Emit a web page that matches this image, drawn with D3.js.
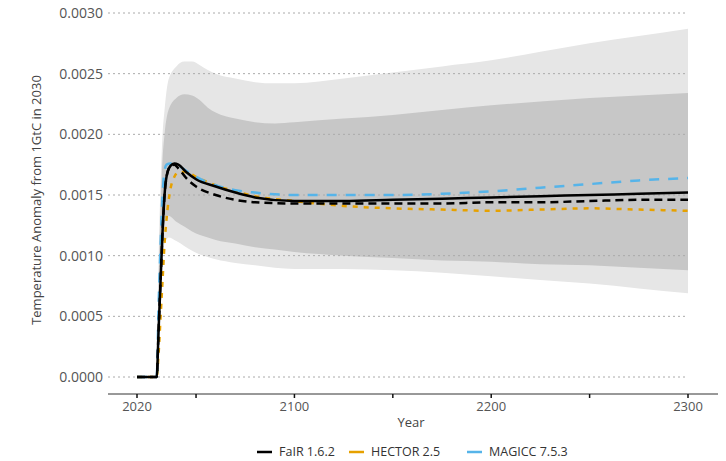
<!DOCTYPE html>
<html><head><meta charset="utf-8">
<script src="https://cdn.jsdelivr.net/npm/d3@7"></script>
<style>body{margin:0;background:#fff}svg{display:block}</style>
</head><body>
<script>
const bandYears = [2020,2030,2031,2032,2033,2034,2036,2040,2044,2048,2052,2056,2060,2070,2080,2090,2100,2125,2150,2175,2200,2225,2250,2275,2300];
const outerUpper = [0,0,0.0010,0.0016,0.0020,0.0022,0.00245,0.00256,0.0026,0.0026,0.00257,0.00253,0.0025,0.00246,0.00243,0.00242,0.00242,0.00246,0.00251,0.00256,0.00261,0.00268,0.00275,0.00281,0.00287];
const darkUpper = [0,0,0.0008,0.0014,0.0018,0.0020,0.0022,0.0023,0.00233,0.00232,0.00228,0.00222,0.00218,0.00213,0.0021,0.00209,0.0021,0.00213,0.00216,0.0022,0.00224,0.00227,0.0023,0.00232,0.00234];
const darkLower = [0,0,0.0006,0.0010,0.0012,0.0013,0.00133,0.00128,0.00124,0.0012,0.00117,0.00115,0.00113,0.0011,0.00107,0.00105,0.00103,0.001,0.00098,0.00096,0.00095,0.00093,0.00092,0.0009,0.00088];
const outerLower = [0,0,0.0005,0.0008,0.001,0.0011,0.00115,0.00112,0.00108,0.00104,0.00101,0.00099,0.00097,0.00094,0.00092,0.0009,0.00089,0.00089,0.00088,0.00086,0.00083,0.0008,0.00077,0.00073,0.00069];

const lineYears = [2020,2030,2031,2032,2033,2034,2035,2037,2039,2041,2045,2050,2060,2070,2080,2100,2125,2150,2175,2200,2225,2250,2275,2300];
const fair = [0,0,0.0004,0.0008,0.0012,0.0015,0.00165,0.00174,0.00176,0.00175,0.00169,0.00163,0.00157,0.00152,0.00148,0.00145,0.00145,0.00146,0.00147,0.00148,0.00149,0.0015,0.00151,0.00152];
const fairDashed = [0,0,0.0004,0.0008,0.0012,0.0015,0.00165,0.00174,0.00175,0.00172,0.00164,0.00157,0.0015,0.00146,0.00144,0.00143,0.00143,0.00143,0.00143,0.00144,0.00144,0.00145,0.00146,0.00146];
const hector = [0,0,0.0002,0.0005,0.0008,0.0011,0.0013,0.00155,0.00165,0.00169,0.00169,0.00165,0.00158,0.00153,0.00149,0.00145,0.00141,0.00139,0.00138,0.00137,0.00138,0.00139,0.00138,0.00137];
const magicc = [0,0,0.0006,0.0011,0.0015,0.0017,0.00175,0.00176,0.00175,0.00174,0.0017,0.00165,0.00158,0.00154,0.00152,0.0015,0.0015,0.0015,0.00151,0.00153,0.00156,0.00159,0.00162,0.00164];

const yTicks = [0,0.0005,0.001,0.0015,0.002,0.0025,0.003];
const xTickLabels = [2020,2100,2200,2300];
const xTicksAll = [2020,2050,2100,2150,2200,2250,2300];
const legendNames = ["FaIR 1.6.2","HECTOR 2.5","MAGICC 7.5.3"];
const legendColors = ["#000000","#E6A100","#56B4E9"];

const W=726,H=461;
const svg=d3.select("body").append("svg").attr("width",W).attr("height",H);
const font="'Open Sans', sans-serif";
const x=d3.scaleLinear().domain([2020,2300]).range([137,688]);
const y=d3.scaleLinear().domain([0,0.003]).range([377,13]);

const area=(lo,hi)=>d3.area().x((d,i)=>x(bandYears[i])).y0((d,i)=>y(lo[i])).y1((d,i)=>y(hi[i])).curve(d3.curveMonotoneX);
svg.append("path").datum(bandYears).attr("d",area(outerLower,outerUpper)).attr("fill","#e6e6e6");
svg.append("path").datum(bandYears).attr("d",area(darkLower,darkUpper)).attr("fill","#c7c7c7");

// grid
const g=svg.append("g");
g.selectAll("line").data(yTicks).join("line")
 .attr("x1",108).attr("x2",688).attr("y1",d=>y(d)).attr("y2",d=>y(d))
 .attr("stroke","#aaaaaa").attr("stroke-width",1).attr("stroke-dasharray","2,3");
svg.append("g").selectAll("text").data(yTicks).join("text")
 .attr("x",103).attr("y",d=>y(d)).attr("dy","0.35em").attr("text-anchor","end")
 .attr("font-family",font).attr("font-size",14).attr("fill","#555")
 .text(d=>d3.format(".4f")(d));

// x axis
const ax=svg.append("g").attr("transform","translate(0,394)");
ax.append("line").attr("x1",108).attr("x2",718).attr("stroke","#333").attr("stroke-width",1);
ax.selectAll("line.t").data(xTicksAll).join("line").attr("class","t")
 .attr("x1",d=>x(d)).attr("x2",d=>x(d)).attr("y1",0).attr("y2",4).attr("stroke","#111").attr("stroke-width",1.5);
ax.selectAll("text").data(xTickLabels).join("text")
 .attr("x",d=>x(d)).attr("y",17).attr("text-anchor","middle")
 .attr("font-family",font).attr("font-size",13).attr("fill","#555").text(d=>d);
svg.append("text").attr("x",411).attr("y",427).attr("text-anchor","middle")
 .attr("font-family",font).attr("font-size",13).attr("fill","#444").text("Year");
svg.append("text").attr("transform","translate(41,200) rotate(-90)").attr("text-anchor","middle")
 .attr("font-family",font).attr("font-size",13).attr("fill","#444").text("Temperature Anomaly from 1GtC in 2030");

const line=arr=>d3.line().x((d,i)=>x(lineYears[i])).y((d,i)=>y(arr[i])).curve(d3.curveMonotoneX)(lineYears);
svg.append("path").attr("d",line(hector)).attr("fill","none").attr("stroke",legendColors[1]).attr("stroke-width",2.5).attr("stroke-dasharray","5,6");
svg.append("path").attr("d",line(magicc)).attr("fill","none").attr("stroke",legendColors[2]).attr("stroke-width",2.5).attr("stroke-dasharray","10,9");
svg.append("path").attr("d",line(fairDashed)).attr("fill","none").attr("stroke","#000").attr("stroke-width",2.5).attr("stroke-dasharray","8,5");
svg.append("path").attr("d",line(fair)).attr("fill","none").attr("stroke",legendColors[0]).attr("stroke-width",2.5);

// legend
const lx=[257,349,467];
const lg=svg.append("g");
legendNames.forEach((n,i)=>{
  lg.append("line").attr("x1",lx[i]).attr("x2",lx[i]+15).attr("y1",452).attr("y2",452).attr("stroke",legendColors[i]).attr("stroke-width",2.5);
  lg.append("text").attr("x",lx[i]+22).attr("y",452).attr("dy","0.35em").attr("font-family",font).attr("font-size",12.5).attr("fill","#333").text(n);
});
</script>
</body></html>
